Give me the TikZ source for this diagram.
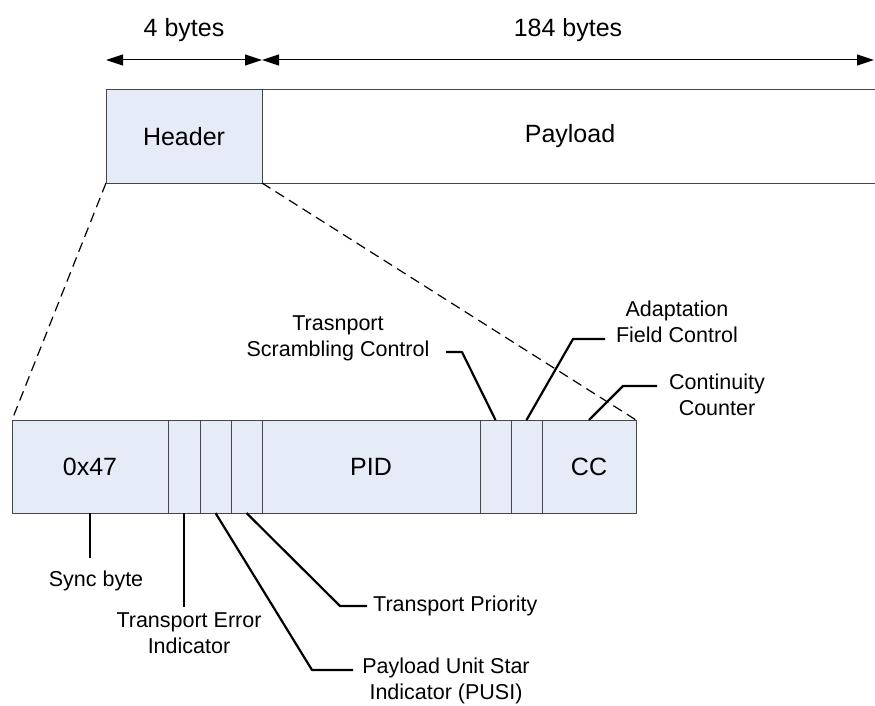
\documentclass[tikz,border=0pt]{standalone}
\usepackage{fontspec}
\setmainfont{Liberation Sans}
\usetikzlibrary{positioning,arrows.meta}
\definecolor{hdrfill}{RGB}{230,236,247}
\definecolor{boxline}{RGB}{70,70,70}
\begin{document}
\begin{tikzpicture}[x=1pt, y=-1pt, line join=round, >={Triangle[length=17pt,width=11pt]},
	big/.style={font=\fontsize{25}{30}\selectfont},
	small/.style={font=\fontsize{21.5}{26}\selectfont, align=center},
	field/.style={draw=boxline, line width=1pt, fill=hdrfill, minimum height=93pt, inner sep=0pt, outer sep=0pt, big},
	leader/.style={line width=2.2pt},
	dim/.style={<->, line width=1pt},
	zoomline/.style={dash pattern=on 10pt off 6pt, line width=1.2pt}]
	\useasboundingbox (0,0) rectangle (875,706);
	% packet
	\node[field, minimum width=156pt, anchor=north west] (hdr) at (106,90) {Header};
	\node[field, fill=white, minimum width=616pt, right=0pt of hdr] (pay) {Payload};
	\coordinate (dimend) at (874,60);
	\draw[dim] (hdr.west |- dimend)--(hdr.east |- dimend) node[midway, above=14pt, big] (lbla) {4 bytes};
	\draw[dim] (pay.west |- dimend)--(dimend) node[midway, above=14pt, big] (lblb) {184 bytes};
	% header fields
	\node[field, minimum width=156pt, anchor=north west] (sync) at (12,420) {0x47};
	\node[field, minimum width=32pt, right=0pt of sync] (tei) {};
	\node[field, minimum width=31pt, right=0pt of tei] (pusi) {};
	\node[field, minimum width=31pt, right=0pt of pusi] (tp) {};
	\node[field, minimum width=218pt, right=0pt of tp] (pid) {PID};
	\node[field, minimum width=31pt, right=0pt of pid] (tsc) {};
	\node[field, minimum width=31pt, right=0pt of tsc] (afc) {};
	\node[field, minimum width=94pt, right=0pt of afc] (cc) {CC};
	\draw[zoomline] (hdr.south west)--(sync.north west);
	\draw[zoomline] (hdr.south east)--(cc.north east);
	% labels
	\node[small] (synclbl) at (96,581) {Sync byte};
	\node[small] (teilbl) at (189,633) {Transport Error\\Indicator};
	\node[small] (pusilbl) at (446,681) {Payload Unit Star\\Indicator (PUSI)};
	\node[small, anchor=west, inner sep=4pt] (tplbl) at (369,606) {Transport Priority};
	\node[small] (tsclbl) at (338,338) {Trasnport\\Scrambling Control};
	\node[small] (afclbl) at (677,322) {Adaptation\\Field Control};
	\node[small] (cclbl) at (717,395) {Continuity\\Counter};
	\path
	(90,558) coordinate (syncend)
	(184,607) coordinate (teiend)
	(312,670) coordinate (pusibend) (353,670) coordinate (pusiend)
	(340,606) coordinate (tpbend) (367,606) coordinate (tpend)
	(462,352) coordinate (tscbend) (446,352) coordinate (tscend)
	(573,339) coordinate (afcbend) (605,339) coordinate (afcend)
	(623,386) coordinate (ccbend) (657,386) coordinate (ccend)
	;
	\draw[leader] (sync.south)--(syncend);
	\draw[leader] (tei.south)--(teiend);
	\draw[leader] (pusi.south)--(pusibend)--(pusiend);
	\draw[leader] (tp.south)--(tpbend)--(tpend);
	\draw[leader] (tsc.north)--(tscbend)--(tscend);
	\draw[leader] (afc.north)--(afcbend)--(afcend);
	\draw[leader] (cc.north)--(ccbend)--(ccend);
\end{tikzpicture}
\end{document}
